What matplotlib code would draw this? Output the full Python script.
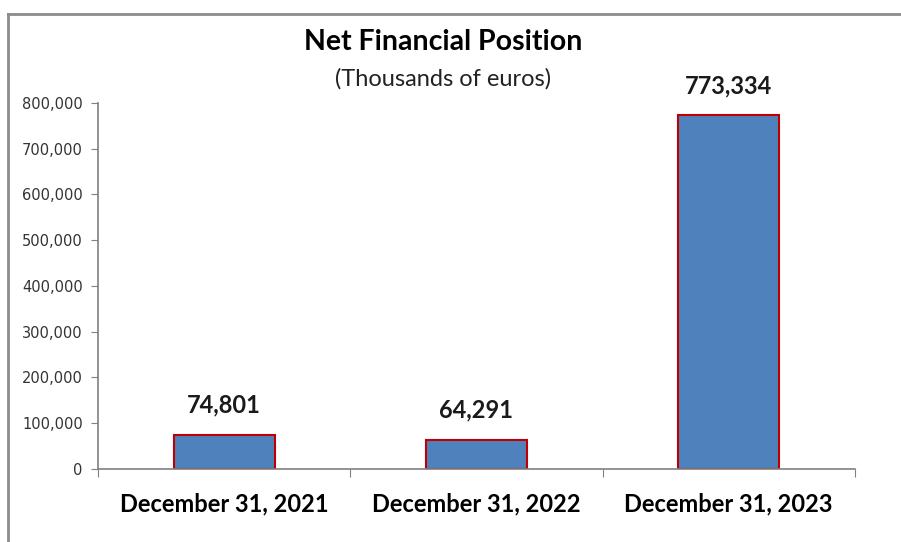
import matplotlib.pyplot as plt
from matplotlib.lines import Line2D

categories = ['December 31, 2021', 'December 31, 2022', 'December 31, 2023']
values = [74801, 64291, 773334]
value_labels = ['74,801', '64,291', '773,334']
yticks = [0, 100000, 200000, 300000, 400000, 500000, 600000, 700000, 800000]
ytick_labels = ['0', '100,000', '200,000', '300,000', '400,000', '500,000',
                '600,000', '700,000', '800,000']

fig = plt.figure(figsize=(9.01, 5.42), dpi=100)
ax = fig.add_axes([0.1088, 0.1347, 0.840, 0.6753])

x = range(len(categories))
ax.bar(x, values, width=0.4, color='#4F81BD', edgecolor='#C00000', linewidth=1.5)

for xi, v, lab in zip(x, values, value_labels):
    ax.annotate(lab, (xi, v), xytext=(0, 13), textcoords='offset points',
                ha='center', va='bottom', fontsize=17, fontweight='bold',
                family='Lato', color='#1a1a1a')

ax.set_xlim(-0.5, 2.5)
ax.set_ylim(0, 800000)
ax.set_yticks(yticks)
ax.set_yticklabels(ytick_labels, fontsize=10.5, color='#333333')
ax.set_xticks([-0.5, 0.5, 1.5, 2.5], minor=False)
ax.set_xticklabels([])
ax.set_xticks(list(x), minor=True)
ax.set_xticklabels(categories, minor=True, fontsize=17, fontweight='bold', family='Lato')
ax.tick_params(axis='x', which='minor', length=0, pad=17)
ax.tick_params(axis='x', which='major', length=6, color='#808080', direction='out')
ax.tick_params(axis='y', length=5, color='#808080', direction='out', pad=6)

for s in ['top', 'right']:
    ax.spines[s].set_visible(False)
for s in ['left', 'bottom']:
    ax.spines[s].set_color('#808080')
    ax.spines[s].set_linewidth(1.2)

fig.text(0.492, 0.922, 'Net Financial Position', ha='center', va='center',
         fontsize=20.5, fontweight='bold', family='Lato')
fig.text(0.492, 0.855, '(Thousands of euros)', ha='center', va='center',
         fontsize=17, family='Lato', color='#222222')

# outer frame (top and left edges visible)
fig.add_artist(Line2D([8 / 901, 1], [1 - 14 / 542, 1 - 14 / 542],
                      transform=fig.transFigure, color='#8c8c8c', linewidth=2))
fig.add_artist(Line2D([8 / 901, 8 / 901], [0, 1 - 14 / 542],
                      transform=fig.transFigure, color='#8c8c8c', linewidth=2))

fig.savefig('out.png', dpi=100)
